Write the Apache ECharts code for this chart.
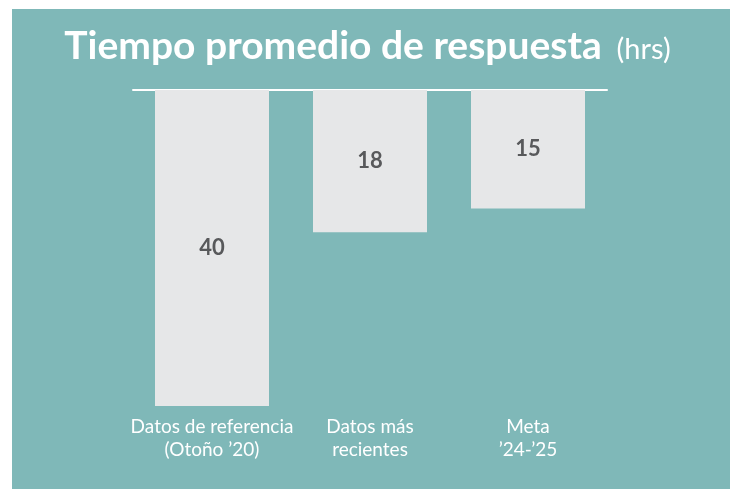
<!DOCTYPE html>
<html lang="es">
<head>
  <meta charset="UTF-8">
  <title>Tiempo promedio de respuesta</title>
  <script src="https://cdn.jsdelivr.net/npm/echarts@6/dist/echarts.min.js"></script>
  <style>
    html,body{margin:0;padding:0;background:#fff;}
    #chart{width:735px;height:489px;}
  </style>
</head>
<body>
  <div id="chart"></div>
  <script>
    // datos
    var categories = ['Datos de referencia\n(Otoño \u201920)', 'Datos más\nrecientes', 'Meta\n\u201924-\u201925'];
    var values = [40, 18, 15];

    var myChart = echarts.init(document.getElementById('chart'));
    var option = {
      backgroundColor: '#ffffff',
      animation: false,
      graphic: [{
        type: 'rect',
        z: -10,
        shape: {x: 12, y: 9, width: 718, height: 480},
        style: {fill: '#7fb8b8'}
      }],
      title: {
        left: 'center',
        top: 22,
        text: '{main|Tiempo promedio de respuesta}{unit|  (hrs)}',
        textStyle: {
          rich: {
            main: {fontFamily: 'Lato', fontWeight: 'bold', fontSize: 39, color: '#ffffff'},
            unit: {fontFamily: 'Lato', fontWeight: 'normal', fontSize: 29, color: '#ffffff', padding: [6, 0, 0, 0]}
          }
        }
      },
      grid: {left: 133, width: 474, top: 90, height: 316},
      xAxis: [{
        type: 'category',
        data: categories,
        position: 'bottom',
        axisLine: {show: false},
        axisTick: {show: false},
        axisLabel: {
          interval: 0,
          color: '#ffffff',
          fontFamily: 'Lato',
          fontSize: 19,
          lineHeight: 23,
          margin: 9
        }
      }, {
        type: 'category',
        data: categories,
        position: 'top',
        axisLine: {show: true, onZero: false, lineStyle: {color: '#ffffff', width: 2}},
        axisTick: {show: false},
        axisLabel: {show: false}
      }],
      yAxis: {
        type: 'value',
        inverse: true,
        min: 0,
        max: 40,
        show: false
      },
      series: [{
        type: 'bar',
        data: values,
        barWidth: 114,
        itemStyle: {color: '#e6e7e8'},
        label: {
          show: true,
          position: 'inside',
          color: '#58595b',
          fontFamily: 'Lato',
          fontWeight: 'bold',
          fontSize: 22
        }
      }]
    };
    myChart.setOption(option);
  </script>
</body>
</html>
